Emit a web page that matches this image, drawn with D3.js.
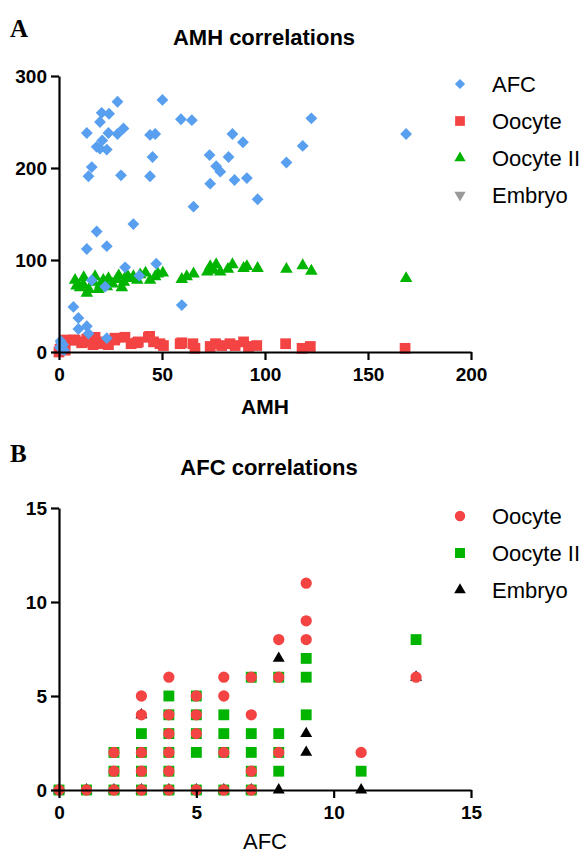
<!doctype html>
<html lang="en">
<head>
    <meta charset="UTF-8">
    <title>AMH / AFC correlations</title>
    <style>
      body { margin: 0; background: #fff; }
      svg text { font-family: 'Liberation Sans', Arial, sans-serif; fill: #000; }
    </style>
</head>
<body>
<div class="container"></div>

<script src="https://d3js.org/d3.v7.min.js"></script>
<script>
  // ---- data: panel A (x = AMH, y = count) ----
  const amhAfc = [
    [0.5, 5], [1, 10], [1.5, 3], [2, 8], [0.8, 12], [2.5, 2], [7, 49], [9.4, 37], [9.4, 25],
    [13.5, 28], [14.3, 20], [23.2, 15], [13.5, 112], [15.9, 78], [18.3, 131], [22.4, 71],
    [23.2, 115], [32.1, 92], [36.1, 139], [39, 83], [47.2, 96], [59.6, 51], [13.5, 238],
    [15.9, 201], [14.3, 191], [20.7, 260], [19.9, 250], [24.3, 259], [28.4, 272], [24, 238],
    [28.4, 237], [31.3, 243], [21, 230], [18.3, 223], [19.9, 221], [23.2, 220], [30.1, 192],
    [44.2, 236], [46.7, 237], [45.4, 212], [44.2, 191], [50.2, 274], [59.2, 253], [64.5, 252],
    [65.3, 158], [73.1, 214], [73.4, 183], [76.3, 202], [78.3, 196], [82.3, 212], [84.2, 237],
    [85.2, 187], [89.3, 228], [91.2, 189], [96.4, 166], [110.4, 206], [118.3, 224],
    [122.5, 254], [168.5, 237]
  ];
  const amhOocyte = [
    [0, 0], [0.5, 3], [2, 8], [3, 2], [3, 13], [6.8, 13], [7.8, 13], [11, 10], [11.7, 11],
    [13.5, 14], [16.5, 8], [17.5, 16], [20, 11], [21.4, 9], [24, 8], [27, 13], [27.2, 15],
    [32, 16], [35, 9], [37.8, 10], [38.5, 11], [43.4, 16], [44, 17], [45.9, 11], [49, 9],
    [50.7, 7], [58.8, 9], [59.6, 10], [65, 9], [66, 4], [73.4, 6], [76, 9], [79, 7], [83, 9],
    [85.5, 7], [89.6, 11], [92, 6], [96, 7], [110, 9], [118, 4], [122, 6], [168, 4]
  ];
  const amhOocyteII = [
    [7.8, 78], [8.5, 72], [10.2, 70], [11.8, 73], [12, 81], [13.5, 64], [14.5, 68], [16.7, 76],
    [17.5, 82], [19.1, 68], [20, 73], [21.5, 78], [23.2, 71], [24, 80], [26, 74], [28, 79],
    [29, 83], [30.5, 70], [31.5, 76], [32.9, 84], [34, 80], [36.1, 82], [38, 78], [39.4, 84],
    [42, 86], [44.2, 78], [46.7, 82], [48, 85], [50.4, 86], [59.6, 79], [62, 82], [65.3, 85],
    [72, 87], [73.4, 93], [75, 89], [76.3, 95], [78.3, 87], [82, 90], [84.2, 95], [89.6, 91],
    [91.2, 93], [96.4, 91], [110.4, 90], [118.3, 94], [122.5, 88], [168.5, 80]
  ];
  const amhEmbryo = [];

  // ---- data: panel B (x = AFC, y = count) ----
  const afcOocyte = [
    [0, 0], [1, 0], [2, 0], [2, 1], [2, 2], [3, 0], [3, 1], [3, 2], [3, 4], [3, 5],
    [4, 0], [4, 1], [4, 2], [4, 3], [4, 4], [4, 6], [5, 0], [5, 3], [5, 4], [5, 5],
    [6, 0], [6, 2], [6, 5], [6, 6], [7, 0], [7, 1], [7, 4], [7, 6], [8, 2], [8, 6], [8, 8],
    [9, 8], [9, 9], [9, 11], [11, 2], [13, 6]
  ];
  const afcOocyteII = [
    [0, 0], [1, 0], [2, 0], [2, 1], [2, 2], [3, 0], [3, 1], [3, 2], [3, 3], [4, 0], [4, 1],
    [4, 2], [4, 3], [4, 4], [4, 5], [5, 0], [5, 2], [5, 3], [5, 4], [5, 5], [6, 0], [6, 2],
    [6, 3], [6, 4], [7, 0], [7, 1], [7, 2], [7, 3], [7, 6], [8, 1], [8, 2], [8, 3], [8, 6],
    [9, 4], [9, 6], [9, 7], [11, 1], [13, 8]
  ];
  const afcEmbryo = [
    [0, 0], [1, 0], [2, 0], [3, 0], [3, 4], [4, 0], [5, 0], [6, 0], [7, 0],
    [8, 0], [8, 7], [9, 2], [9, 3], [11, 0], [13, 6]
  ];

  const amhTicksX = [0, 50, 100, 150, 200];
  const amhTicksY = [0, 100, 200, 300];
  const afcTicks = [0, 5, 10, 15];

  const BLUE = '#589ff0';
  const RED = '#f34343';
  const GREEN = '#00b400';
  const GRAY = '#9b9b9b';

  const svg = d3.select('.container')
    .append('svg')
    .attr('width', 585)
    .attr('height', 856);

  function drawAxes(x, y, xTicks, yTicks, x0, y0) {
    const xAxis = svg.append('g')
      .attr('transform', `translate(0, ${y0})`)
      .call(d3.axisBottom(x).tickValues(xTicks).tickSize(8).tickSizeOuter(0).tickPadding(7));
    const yAxis = svg.append('g')
      .attr('transform', `translate(${x0}, 0)`)
      .call(d3.axisLeft(y).tickValues(yTicks).tickSize(8).tickSizeOuter(0).tickPadding(4));
    [xAxis, yAxis].forEach(a => {
      a.selectAll('path, line').attr('stroke', '#000').attr('stroke-width', 2.2);
      a.selectAll('text')
        .style('font-family', "'Liberation Sans', Arial, sans-serif")
        .style('font-size', '19px')
        .style('font-weight', 'bold')
        .attr('fill', '#000');
    });
    yAxis.selectAll('text').attr('dy', '0.36em');
    xAxis.selectAll('text').attr('dy', '0.72em');
  }

  function drawSeries(data, x, y, s) {
    svg.append('g').selectAll('path')
      .data(data)
      .enter().append('path')
      .attr('d', d3.symbol().type(s.type).size(s.size))
      .attr('transform', d => `translate(${x(d[0])}, ${y(d[1])}) rotate(${s.rot || 0})`)
      .attr('fill', s.color);
  }

  function drawLegend(items, lx, ly, step) {
    items.forEach((s, i) => {
      svg.append('path')
        .attr('d', d3.symbol().type(s.type).size(s.legendSize))
        .attr('transform', `translate(${lx}, ${ly + i * step}) rotate(${s.rot || 0})`)
        .attr('fill', s.color);
      svg.append('text')
        .attr('x', lx + 32)
        .attr('y', ly + i * step + 8)
        .style('font-size', '22px')
        .text(s.name);
    });
  }

  // ---------- Panel A ----------
  const xA = d3.scaleLinear().domain([0, 200]).range([59, 471]);
  const yA = d3.scaleLinear().domain([0, 300]).range([352, 76]);

  const symA = [
    { name: 'AFC', data: amhAfc, type: d3.symbolSquare, size: 70, rot: 45, color: BLUE, legendSize: 52 },
    { name: 'Oocyte', data: amhOocyte, type: d3.symbolSquare, size: 115, color: RED, legendSize: 95 },
    { name: 'Oocyte II', data: amhOocyteII, type: d3.symbolTriangle, size: 68, color: GREEN, legendSize: 55 },
    { name: 'Embryo', data: amhEmbryo, type: d3.symbolTriangle, size: 68, rot: 180, color: GRAY, legendSize: 55 }
  ];

  svg.append('text').attr('x', 10).attr('y', 37)
    .style('font-family', "'Liberation Serif', 'Times New Roman', serif")
    .style('font-size', '25px').style('font-weight', 'bold').text('A');
  svg.append('text').attr('x', 264).attr('y', 45).attr('text-anchor', 'middle')
    .style('font-size', '22px').style('font-weight', 'bold').text('AMH correlations');

  // Prism draws the last data set first
  symA.slice().reverse().forEach(s => drawSeries(s.data, xA, yA, s));
  drawAxes(xA, yA, amhTicksX, amhTicksY, 59, 352);

  svg.append('text').attr('x', 265).attr('y', 414).attr('text-anchor', 'middle')
    .style('font-size', '21px').style('font-weight', 'bold').text('AMH');

  drawLegend(symA, 460, 84, 37);

  // ---------- Panel B ----------
  const xB = d3.scaleLinear().domain([0, 15]).range([59, 471]);
  const yB = d3.scaleLinear().domain([0, 15]).range([790, 508]);

  const symB = [
    { name: 'Oocyte', data: afcOocyte, type: d3.symbolCircle, size: 100, color: RED, legendSize: 85 },
    { name: 'Oocyte II', data: afcOocyteII, type: d3.symbolSquare, size: 118, color: GREEN, legendSize: 100 },
    { name: 'Embryo', data: afcEmbryo, type: d3.symbolTriangle, size: 62, color: '#000', legendSize: 58 }
  ];

  svg.append('text').attr('x', 10).attr('y', 462)
    .style('font-family', "'Liberation Serif', 'Times New Roman', serif")
    .style('font-size', '25px').style('font-weight', 'bold').text('B');
  svg.append('text').attr('x', 269).attr('y', 475).attr('text-anchor', 'middle')
    .style('font-size', '22px').style('font-weight', 'bold').text('AFC correlations');

  symB.slice().reverse().forEach(s => drawSeries(s.data, xB, yB, s));
  drawAxes(xB, yB, afcTicks, afcTicks, 59, 790);

  svg.append('text').attr('x', 265).attr('y', 849).attr('text-anchor', 'middle')
    .style('font-size', '22px').text('AFC');

  drawLegend(symB, 460, 516, 37);
</script>
</body>
</html>
